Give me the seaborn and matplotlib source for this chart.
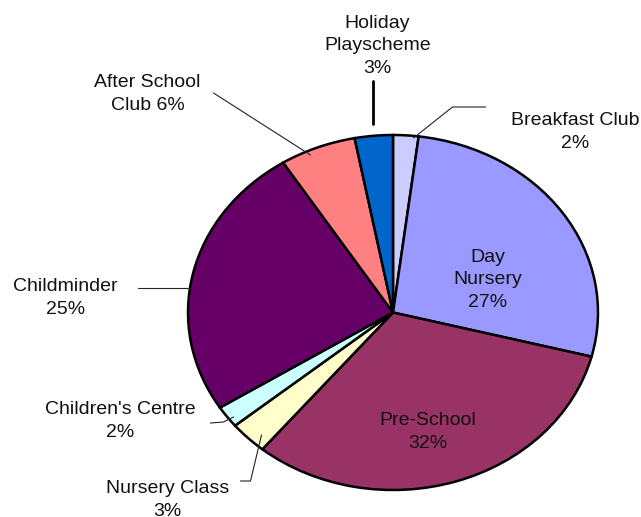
import matplotlib
matplotlib.use('Agg')
import matplotlib.pyplot as plt
import seaborn as sns

# Childcare type shares (clockwise from the top)
categories = ['Breakfast Club', 'Day Nursery', 'Pre-School', 'Nursery Class',
              "Children's Centre", 'Childminder', 'After School Club', 'Holiday Playscheme']
shares = [2, 27, 32, 3, 2, 25, 6, 3]
label_text = ['Breakfast Club\n2%', 'Day\nNursery\n27%', 'Pre-School\n32%', 'Nursery Class\n3%',
              "Children's Centre\n2%", 'Childminder\n25%', 'After School\nClub 6%', 'Holiday\nPlayscheme\n3%']
colors = ['#ccccff', '#9999ff', '#993366', '#ffffcc', '#ccffff', '#660066', '#ff8080', '#0066cc']

sns.set_theme(style='white')
plt.rcParams['font.family'] = ['Liberation Sans', 'DejaVu Sans']

fig = plt.figure(figsize=(6.41, 5.17), dpi=100)
ax = fig.add_axes([188 / 641, 27 / 517, 410 / 641, 355 / 517])

ax.pie(shares, colors=colors, startangle=90, counterclock=False,
       wedgeprops=dict(edgecolor='black', linewidth=1.8))
ax.set_aspect('auto')
ax.set_xlim(-1, 1)
ax.set_ylim(-1, 1)


# pixel -> data helper for label placement
def px(x, y):
    return (x - 392.5) / 205, (312.5 - y) / 177.5


label_pos = {
    'Breakfast Club': (575, 132),
    'Day Nursery': (487, 280),
    'Pre-School': (427, 432),
    'Nursery Class': (167, 500),
    "Children's Centre": (120, 421),
    'Childminder': (65, 298),
    'After School Club': (147, 94),
    'Holiday Playscheme': (377, 46),
}
for cat, txt in zip(categories, label_text):
    x, y = px(*label_pos[cat])
    ax.text(x, y, txt, ha='center', va='center', fontsize=14,
            color='#111111', linespacing=1.45, clip_on=False)

# leader lines
leaders = [
    [(413, 138), (452, 107), (485, 107)],
    [(372, 81), (372, 124)],
    [(213, 93), (310, 155)],
    [(137, 288), (190, 288)],
    [(210, 423), (223, 422), (233, 417)],
    [(240, 481), (250, 481), (261, 435)],
]
for pts in leaders:
    xs, ys = zip(*[px(*p) for p in pts])
    lw = 2 if pts[0][0] == 372 else 0.8
    ax.plot(xs, ys, color='#222222' if lw < 1 else 'black', lw=lw, clip_on=False)

fig.savefig('out.png', dpi=100)
